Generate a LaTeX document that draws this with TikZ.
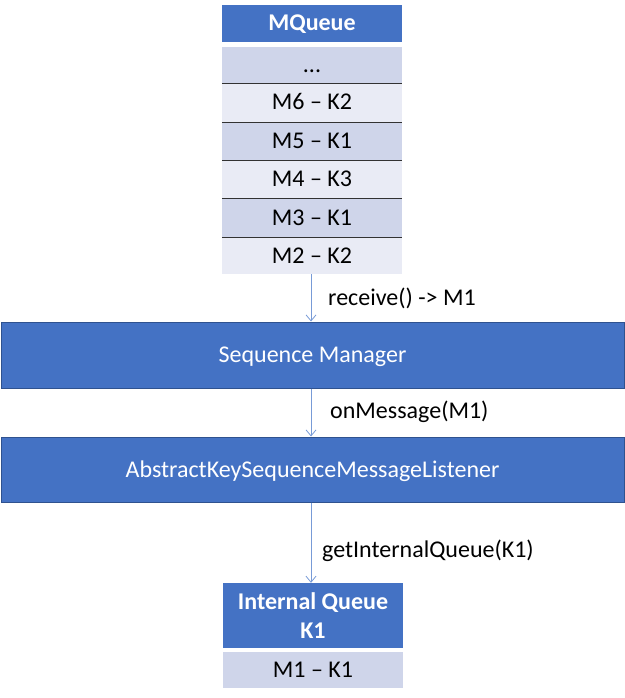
\documentclass[tikz,border=0pt]{standalone}
\usepackage{fontspec}
\setmainfont{Carlito}
\usetikzlibrary{arrows.meta}
\definecolor{hdr}{RGB}{68,114,196}
\definecolor{hdrborder}{RGB}{47,82,143}
\definecolor{rowdark}{RGB}{207,213,234}
\definecolor{rowlight}{RGB}{233,235,245}
\definecolor{arrowc}{RGB}{120,155,215}
\definecolor{sepc}{RGB}{50,50,50}
\tikzset{
  fixtext/.style={text height=18pt, text depth=3pt},
  hdrbox/.style={fill=hdr, text=white, font=\bfseries\fontsize{24}{29}\selectfont, inner sep=0pt, minimum width=180pt, align=center},
  bigbox/.style={fill=hdr, draw=hdrborder, line width=1pt, text=white, font=\fontsize{24}{29}\selectfont, inner sep=0pt, minimum width=623pt, minimum height=66pt, fixtext},
  rowd/.style={fill=rowdark, inner sep=0pt, minimum width=180pt, font=\fontsize{24}{29}\selectfont, fixtext},
  rowl/.style={fill=rowlight, inner sep=0pt, minimum width=180pt, font=\fontsize{24}{29}\selectfont, fixtext},
  sep/.style={draw=sepc, line width=1pt},
  flow/.style={draw=arrowc, line width=0.8pt, -{Straight Barb[length=6pt,width=10pt]}},
  lbl/.style={anchor=west, inner sep=0pt, font=\fontsize{24}{29}\selectfont, fixtext}
}
\begin{document}
\begin{tikzpicture}[x=1pt,y=-1pt]
\useasboundingbox (0,0) rectangle (624,698);
% MQueue
\node[hdrbox, fixtext, minimum height=37pt] (mq) at (312,23.5) {MQueue};
\node[rowd, minimum height=36pt] (r0) at (312,65) {...};
\node[rowl, minimum height=39pt] (r1) at (312,102.5) {M6 – K2};
\node[rowd, minimum height=38pt] (r2) at (312,141) {M5 – K1};
\node[rowl, minimum height=38pt] (r3) at (312,179) {M4 – K3};
\node[rowd, minimum height=39pt] (r4) at (312,217.5) {M3 – K1};
\node[rowl, minimum height=37pt] (r5) at (312,255.5) {M2 – K2};
\draw[sep] (r0.south west) -- (r0.south east);
\draw[sep] (r1.south west) -- (r1.south east);
\draw[sep] (r2.south west) -- (r2.south east);
\draw[sep] (r3.south west) -- (r3.south east);
\draw[sep] (r4.south west) -- (r4.south east);
% Big boxes
\node[bigbox] (sm) at (312.5,355) {Sequence Manager};
\node[bigbox, minimum height=65pt] (ak) at (312.5,469.5) {AbstractKeySequenceMessageListener};
% Internal queue
\node[hdrbox, minimum height=65pt] (iq) at (313,615.5) {Internal Queue\\K1};
\node[rowd, minimum height=36pt] (ir) at (313,670) {M1 – K1};
% Arrows
\coordinate (a1s) at (311,274);
\draw[flow] (a1s) -- (a1s |- sm.north);
\coordinate (a2s) at (311,388.5);
\draw[flow] (a2s) -- (a2s |- ak.north);
\coordinate (a3s) at (311,502.5);
\draw[flow] (a3s) -- (a3s |- iq.north);
% Labels
\node[lbl] (l1) at (328,298) {receive() -> M1};
\node[lbl] (l2) at (330,411) {onMessage(M1)};
\node[lbl] (l3) at (322,550) {getInternalQueue(K1)};
\end{tikzpicture}
\end{document}
